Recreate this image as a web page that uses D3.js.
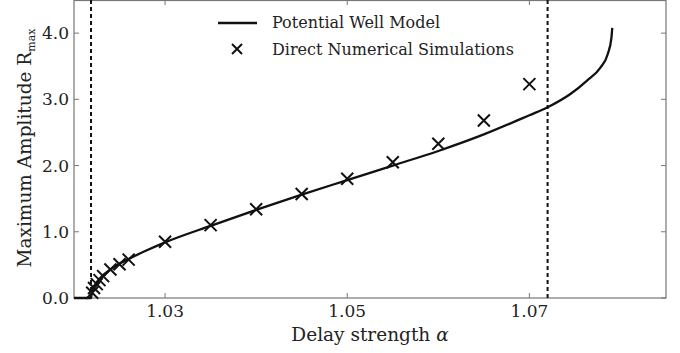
<!DOCTYPE html>
<html>
<head>
<meta charset="utf-8">
<script src="https://cdn.jsdelivr.net/npm/d3@7"></script>
<style>
  body { margin: 0; background: #fff; }
</style>
</head>
<body>
<div id="chart"></div>
<script>
// potential well model curve (alpha, Rmax)
const modelAlpha = [1.020, 1.02187, 1.0219, 1.0220, 1.0222, 1.0225, 1.023, 1.024, 1.025, 1.026, 1.028, 1.030,
  1.035, 1.040, 1.045, 1.050, 1.055, 1.060, 1.065, 1.070, 1.072, 1.0745, 1.0763, 1.0778, 1.0786, 1.0790, 1.0791];
const modelR = [0, 0, 0.03, 0.10, 0.17, 0.24, 0.32, 0.43, 0.52, 0.59, 0.72, 0.84,
  1.09, 1.33, 1.56, 1.78, 2.00, 2.22, 2.47, 2.76, 2.88, 3.08, 3.28, 3.48, 3.68, 3.92, 4.08];

// direct numerical simulations
const simAlpha = [1.0220, 1.0222, 1.0225, 1.0228, 1.0232, 1.024, 1.025, 1.026, 1.030, 1.035, 1.040, 1.045, 1.050, 1.055, 1.060, 1.065, 1.070];
const simR = [0.08, 0.15, 0.21, 0.27, 0.33, 0.43, 0.51, 0.58, 0.85, 1.10, 1.34, 1.57, 1.80, 2.05, 2.33, 2.68, 3.23];

const xTicks = [1.03, 1.05, 1.07];
const yTicks = [0, 1, 2, 3, 4];
const criticalAlpha = [1.02187, 1.0720];

const width = 680, height = 353;
const margin = {top: 0, right: 14, bottom: 55, left: 74};
const serif = "'DejaVu Serif', 'Liberation Serif', serif";

const svg = d3.select("#chart").append("svg")
  .attr("width", width)
  .attr("height", height)
  .attr("font-family", serif);

const x = d3.scaleLinear().domain([1.02, 1.085]).range([margin.left, width - margin.right]);
const y = d3.scaleLinear().domain([0, 4.5]).range([height - margin.bottom, margin.top]);

const x0 = x.range()[0], x1 = x.range()[1], y0 = y.range()[0], y1 = y.range()[1];

// frame
svg.append("rect")
  .attr("x", x0).attr("y", y1 + 0.5)
  .attr("width", x1 - x0).attr("height", y0 - y1 - 0.5)
  .attr("fill", "none").attr("stroke", "#777").attr("stroke-width", 1.2);

// ticks (inward, all sides)
const tickLen = 5;
svg.selectAll(".xt").data(xTicks).join("g").each(function(d) {
  const g = d3.select(this);
  g.append("line").attr("x1", x(d)).attr("x2", x(d)).attr("y1", y0).attr("y2", y0 - tickLen).attr("stroke", "#777");
  g.append("line").attr("x1", x(d)).attr("x2", x(d)).attr("y1", y1).attr("y2", y1 + tickLen).attr("stroke", "#777");
  g.append("text").attr("x", x(d)).attr("y", y0 + 19).attr("text-anchor", "middle")
    .attr("font-family", serif).attr("fill", "#222")
    .style("font-size", "17px").text(d3.format(".2f")(d));
});
svg.selectAll(".yt").data(yTicks).join("g").each(function(d) {
  const g = d3.select(this);
  g.append("line").attr("x1", x0).attr("x2", x0 + tickLen).attr("y1", y(d)).attr("y2", y(d)).attr("stroke", "#777");
  g.append("line").attr("x1", x1).attr("x2", x1 - tickLen).attr("y1", y(d)).attr("y2", y(d)).attr("stroke", "#777");
  g.append("text").attr("x", x0 - 5).attr("y", y(d) + 6).attr("text-anchor", "end")
    .attr("font-family", serif).attr("fill", "#222")
    .style("font-size", "17px").text(d3.format(".1f")(d));
});

// dashed critical lines
svg.selectAll(".crit").data(criticalAlpha).join("line")
  .attr("x1", d => x(d)).attr("x2", d => x(d))
  .attr("y1", y1).attr("y2", y0)
  .attr("stroke", "#111").attr("stroke-width", 2)
  .attr("stroke-dasharray", "4,3");

// model curve
const line = d3.line().x(d => x(d[0])).y(d => y(d[1])).curve(d3.curveMonotoneX);
svg.append("path")
  .datum(modelAlpha.map((a, i) => [a, modelR[i]]))
  .attr("d", line)
  .attr("fill", "none").attr("stroke", "#111").attr("stroke-width", 2.3);

// simulation markers
const ms = 6;
const cross = (cx, cy, s) => `M${cx - s},${cy - s}L${cx + s},${cy + s}M${cx - s},${cy + s}L${cx + s},${cy - s}`;
svg.selectAll(".sim").data(simAlpha.map((a, i) => [a, simR[i]])).join("path")
  .attr("d", d => cross(x(d[0]), y(d[1]), ms))
  .attr("stroke", "#111").attr("stroke-width", 2).attr("fill", "none");

// legend
const lg = svg.append("g").attr("font-family", serif).attr("fill", "#222");
lg.append("line").attr("x1", 218).attr("x2", 257).attr("y1", 23).attr("y2", 23)
  .attr("stroke", "#111").attr("stroke-width", 2.3);
lg.append("text").attr("x", 272).attr("y", 28).style("font-size", "16px").text("Potential Well Model");
lg.append("path").attr("d", cross(237, 49, 5)).attr("stroke", "#111").attr("stroke-width", 2);
lg.append("text").attr("x", 272).attr("y", 55).style("font-size", "16px").text("Direct Numerical Simulations");

// axis labels
const xl = svg.append("text").attr("x", 370).attr("y", 341)
  .attr("text-anchor", "middle").attr("font-family", serif).attr("fill", "#222").style("font-size", "18.5px");
xl.append("tspan").text("Delay strength ");
xl.append("tspan").style("font-style", "italic").text("α");

const yl = svg.append("text")
  .attr("transform", `translate(31,${148}) rotate(-90)`)
  .attr("text-anchor", "middle").attr("font-family", serif).attr("fill", "#222").style("font-size", "18.5px");
yl.append("tspan").text("Maximum Amplitude R");
yl.append("tspan").attr("dy", 4).style("font-size", "11px").text("max");
</script>
</body>
</html>
